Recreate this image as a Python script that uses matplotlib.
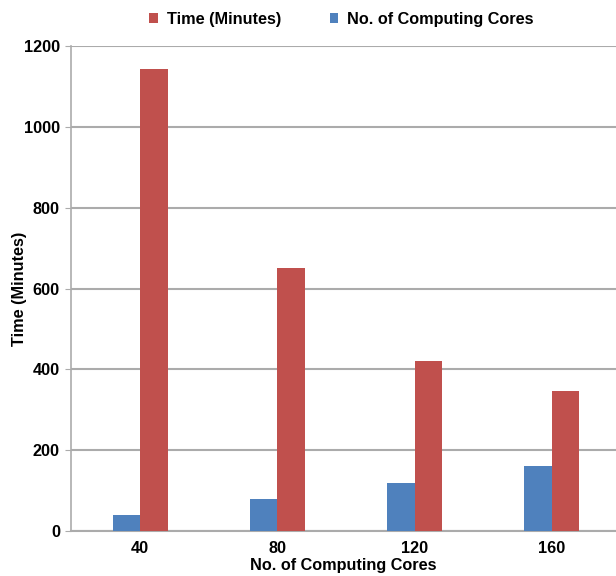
import numpy as np
import matplotlib.pyplot as plt

plt.rcParams['font.family'] = ['Liberation Sans', 'DejaVu Sans']
plt.rcParams['font.weight'] = 'bold'

# Data
cores_labels = ["40", "80", "120", "160"]
cores = [40, 80, 120, 160]
time_minutes = [1143, 650, 420, 347]

x = np.arange(len(cores_labels))
w = 0.2
fs = 11.7

fig = plt.figure(figsize=(6.16, 5.76), dpi=100)
ax = fig.add_axes([0.1153, 0.0781, 0.8847, 0.842])

ax.bar(x - w / 2, cores, width=w, color="#4F81BD", label="No. of Computing Cores", zorder=3)
ax.bar(x + w / 2, time_minutes, width=w, color="#C0504D", label="Time (Minutes)", zorder=3)

ax.set_ylim(0, 1200)
ax.set_xlim(-0.503, 3.467)
ax.set_yticks(range(0, 1201, 200))
ax.set_xticks(x)
ax.set_xticklabels(cores_labels)
ax.yaxis.grid(True, color="#ABABAB", linewidth=1.5, zorder=0)

for s in ["top", "right"]:
    ax.spines[s].set_visible(False)
ax.spines["left"].set_color("#ABABAB")
ax.spines["bottom"].set_color("#ABABAB")
ax.spines["left"].set_linewidth(1.2)
ax.spines["bottom"].set_linewidth(1.5)
ax.tick_params(axis="y", length=4, color="#ABABAB", labelsize=fs, pad=4)
ax.tick_params(axis="x", length=0, labelsize=fs, pad=7)

ax.set_ylabel("Time (Minutes)", fontsize=fs, fontweight="bold")
ax.set_xlabel("No. of Computing Cores", fontsize=fs, fontweight="bold")
ax.yaxis.set_label_coords(-0.081, 0.5)
ax.xaxis.set_label_coords(0.5, -0.055)

handles, labels = ax.get_legend_handles_labels()
fig.legend(handles[::-1], labels[::-1], loc="center", bbox_to_anchor=(0.554, 0.966),
           ncol=2, frameon=False, fontsize=fs, handlelength=0.55, handleheight=0.55,
           columnspacing=3.0, handletextpad=0.5, borderpad=0, borderaxespad=0)

fig.savefig("out.png", dpi=100)
